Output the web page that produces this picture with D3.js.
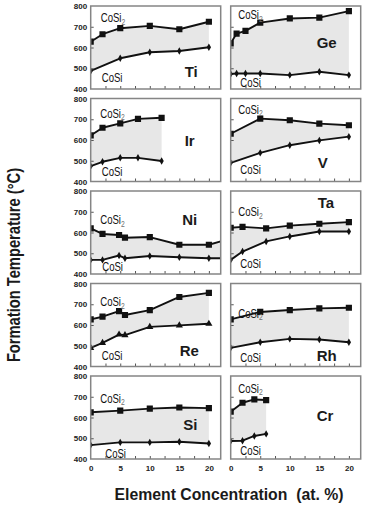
<!DOCTYPE html>
<html>
<head>
<meta charset="utf-8">
<script src="https://cdn.jsdelivr.net/npm/d3@7"></script>
<style>
  body { margin: 0; background: #fff; }
  svg { display: block; font-family: 'Liberation Sans', Arial, sans-serif; }
</style>
</head>
<body>
<svg width="365" height="506"></svg>
<script>
// formation temperatures (degC), per alloying element
const tiX = [0, 2, 5, 10, 15, 20];
const tiCoSi2 = [628, 664, 693, 704, 688, 724];
const tiCoSiX = [0, 5, 10, 15, 20];
const tiCoSi = [487, 548, 577, 583, 601];

const geX = [0, 1, 2.5, 5, 10, 15, 20];
const geCoSi2 = [620, 667, 680, 720, 740, 744, 775];
const geCoSi = [472, 475, 475, 475, 467, 483, 467];

const irX = [0, 2, 5, 8, 12];
const irCoSi2 = [622, 659, 680, 702, 707];
const irCoSi = [474, 495, 514, 514, 499];

const vX = [0, 5, 10, 15, 20];
const vCoSi2 = [630, 703, 695, 679, 671];
const vCoSi = [490, 538, 575, 598, 616];

const niX = [0, 2, 4.8, 5.8, 10, 15, 20, 22];
const niCoSi2 = [620, 593, 588, 575, 578, 541, 541, 557];
const niCoSi = [468, 468, 489, 476, 487, 481, 476, 476];

const taX = [0, 2, 6, 10, 15, 20];
const taCoSi2 = [623, 627, 620, 633, 642, 650];
const taCoSi = [468, 508, 557, 581, 605, 605];

const reX = [0, 2, 4.8, 5.8, 10, 15, 20];
const reCoSi2 = [627, 640, 667, 648, 672, 735, 755];
const reCoSi = [490, 514, 554, 551, 591, 598, 606];

const rhX = [0, 5, 10, 15, 20];
const rhCoSi2 = [627, 663, 672, 680, 683];
const rhCoSi = [490, 517, 533, 530, 517];

const siX = [0, 5, 10, 15, 20];
const siCoSi2 = [625, 633, 643, 648, 645];
const siCoSi = [467, 480, 480, 483, 475];

const crX = [0, 2, 4, 6];
const crCoSi2 = [628, 671, 687, 684];
const crCoSi = [487, 488, 511, 521];

const yTicks = [400, 500, 600, 700, 800];
const xTicks = [0, 5, 10, 15, 20];

const panels = [
  {name: 'Ti', col: 0, row: 0, x2: tiX, y2: tiCoSi2, x1: tiCoSiX, y1: tiCoSi},
  {name: 'Ge', col: 1, row: 0, x2: geX, y2: geCoSi2, x1: geX, y1: geCoSi},
  {name: 'Ir', col: 0, row: 1, x2: irX, y2: irCoSi2, x1: irX, y1: irCoSi},
  {name: 'V',  col: 1, row: 1, x2: vX, y2: vCoSi2, x1: vX, y1: vCoSi},
  {name: 'Ni', col: 0, row: 2, x2: niX, y2: niCoSi2, x1: niX, y1: niCoSi},
  {name: 'Ta', col: 1, row: 2, x2: taX, y2: taCoSi2, x1: taX, y1: taCoSi},
  {name: 'Re', col: 0, row: 3, x2: reX, y2: reCoSi2, x1: reX, y1: reCoSi, tri: true},
  {name: 'Rh', col: 1, row: 3, x2: rhX, y2: rhCoSi2, x1: rhX, y1: rhCoSi},
  {name: 'Si', col: 0, row: 4, x2: siX, y2: siCoSi2, x1: siX, y1: siCoSi},
  {name: 'Cr', col: 1, row: 4, x2: crX, y2: crCoSi2, x1: crX, y1: crCoSi}
];

// label spots inside each panel, px from the panel's top-left corner (left x, baseline y)
const labelPos = {
  Ti: {c2: [10, 16], c1: [11, 76], el: [94, 71]},
  Ge: {c2: [7.5, 13], c1: [9.5, 81], el: [86, 42]},
  Ir: {c2: [9.5, 19], c1: [11, 77.5], el: [94, 47]},
  V:  {c2: [7.5, 15], c1: [9.5, 75.5], el: [87, 69]},
  Ni: {c2: [9.5, 33], c1: [11.5, 80], el: [91.5, 34]},
  Ta: {c2: [7.5, 25], c1: [9.5, 76.5], el: [87, 17]},
  Re: {c2: [9.5, 22.5], c1: [11, 76], el: [89, 72]},
  Rh: {c2: [7.5, 34], c1: [9.5, 78.5], el: [86, 77]},
  Si: {c2: [9.5, 26.5], c1: [14.5, 81.5], el: [92.5, 54]},
  Cr: {c2: [7.5, 16.5], c1: [9.5, 79], el: [86, 45]}
};

const W = 130, H = 83;
const colX = [90.7, 230.7];
const rowY = [6, 98.5, 191, 283.5, 376];
const svg = d3.select('svg');
const defs = svg.append('defs');

function cosiLabel(g, x, y, two) {
  const t = g.append('text')
    .attr('transform', `translate(${x},${y}) scale(0.8,1)`)
    .attr('font-size', 12)
    .attr('fill', '#111')
    .text('CoSi');
  if (two) {
    t.append('tspan')
      .attr('font-size', 8.5)
      .attr('dy', 2.5)
      .attr('fill', '#707070')
      .text('2');
  }
}

panels.forEach((p) => {
  const x0 = colX[p.col], y0 = rowY[p.row];
  const x = d3.scaleLinear().domain([0, 22]).range([x0, x0 + W]);
  const y = d3.scaleLinear().domain([400, 800]).range([y0 + H, y0]);
  const g = svg.append('g').attr('class', 'panel ' + p.name);

  defs.append('clipPath').attr('id', 'clip' + p.name)
    .append('rect').attr('x', x0).attr('y', y0).attr('width', W).attr('height', H);
  const plot = g.append('g').attr('clip-path', `url(#clip${p.name})`);

  const upper = p.x2.map((d, i) => [d, p.y2[i]]);
  const lower = p.x1.map((d, i) => [d, p.y1[i]]);
  const line = d3.line().x(d => x(d[0])).y(d => y(d[1]));

  plot.append('path')
    .attr('d', line(upper.concat(lower.slice().reverse())) + 'Z')
    .attr('fill', '#e7e7e7');

  [upper, lower].forEach((pts) => {
    plot.append('path')
      .attr('d', line(pts))
      .attr('fill', 'none')
      .attr('stroke', '#111')
      .attr('stroke-width', 1.9)
      .attr('stroke-linejoin', 'round');
  });

  plot.selectAll('.sq')
    .data(upper.filter(d => d[0] <= 20))
    .enter().append('path')
    .attr('d', d3.symbol(d3.symbolSquare, 38))
    .attr('transform', d => `translate(${x(d[0])},${y(d[1])})`)
    .attr('fill', '#111');

  plot.selectAll('.lo')
    .data(lower.filter(d => d[0] <= 20))
    .enter().append('path')
    .attr('d', p.tri ? d3.symbol(d3.symbolTriangle, 22) : d3.symbol(d3.symbolDiamond, 16))
    .attr('transform', d => `translate(${x(d[0])},${y(d[1])})`)
    .attr('fill', '#111');

  // inward ticks
  const bx = g.append('g')
    .attr('transform', `translate(0,${y0 + H})`)
    .call(d3.axisBottom(x).tickValues(d3.range(2.5, 21, 2.5)).tickSize(-3).tickFormat(''));
  bx.select('.domain').remove();
  bx.selectAll('line').attr('stroke', '#555');
  const ly = g.append('g')
    .attr('transform', `translate(${x0},0)`)
    .call(d3.axisLeft(y).tickValues([500, 600, 700]).tickSize(-3).tickFormat(''));
  ly.select('.domain').remove();
  ly.selectAll('line').attr('stroke', '#555');

  g.append('rect')
    .attr('x', x0).attr('y', y0).attr('width', W).attr('height', H)
    .attr('fill', 'none')
    .attr('stroke', '#858585')
    .attr('stroke-width', 1.5);

  if (p.col === 0) {
    const ay = g.append('g')
      .attr('transform', `translate(${x0},0)`)
      .call(d3.axisLeft(y).tickValues(yTicks).tickSize(0).tickPadding(3.5));
    ay.select('.domain').remove();
    ay.selectAll('text')
      .attr('font-family', "'Liberation Sans', Arial, sans-serif")
      .attr('font-size', 8).attr('font-weight', 'bold').attr('fill', '#222');
  }
  if (p.row === 4) {
    const ax = g.append('g')
      .attr('transform', `translate(0,${y0 + H})`)
      .call(d3.axisBottom(x).tickValues(xTicks).tickSize(0).tickPadding(6.5));
    ax.select('.domain').remove();
    ax.selectAll('text')
      .attr('font-family', "'Liberation Sans', Arial, sans-serif")
      .attr('font-size', 8).attr('font-weight', 'bold').attr('fill', '#222');
  }

  const lp = labelPos[p.name];
  cosiLabel(g, x0 + lp.c2[0], y0 + lp.c2[1], true);
  cosiLabel(g, x0 + lp.c1[0], y0 + lp.c1[1], false);
  g.append('text')
    .attr('x', x0 + lp.el[0]).attr('y', y0 + lp.el[1])
    .attr('font-size', 15).attr('font-weight', 'bold').attr('fill', '#1a1a1a')
    .text(p.name);
});

svg.append('text')
  .attr('transform', 'translate(20,265) rotate(-90) scale(0.84,1)')
  .attr('text-anchor', 'middle')
  .attr('font-size', 17.5).attr('font-weight', 'bold').attr('fill', '#1a1a1a')
  .text('Formation Temperature (°C)');

svg.append('text')
  .attr('x', 229).attr('y', 500)
  .attr('text-anchor', 'middle')
  .attr('font-size', 15.8).attr('font-weight', 'bold').attr('fill', '#1a1a1a')
  .style('white-space', 'pre')
  .text('Element Concentration  (at. %)');
</script>
</body>
</html>
